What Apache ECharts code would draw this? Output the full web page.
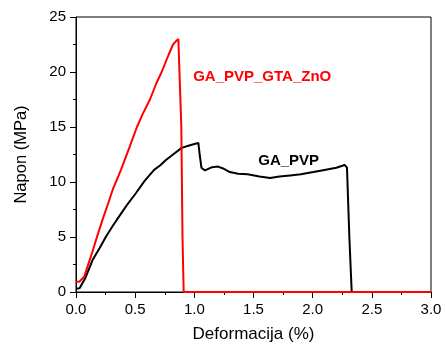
<!DOCTYPE html>
<html>
<head>
<meta charset="utf-8">
<script src="https://cdn.jsdelivr.net/npm/echarts@6/dist/echarts.min.js"></script>
<style>html,body{margin:0;padding:0;background:#fff}#c{width:445px;height:344px}</style>
</head>
<body>
<div id="c"></div>
<script>
// Data
const strainBlack = [0, 0.03, 0.042, 0.08, 0.14, 0.2, 0.254, 0.31, 0.366, 0.43, 0.507, 0.58, 0.66, 0.71, 0.76, 0.82, 0.893, 0.95, 1.0, 1.034, 1.045, 1.06, 1.09, 1.15, 1.2, 1.25, 1.3, 1.37, 1.45, 1.55, 1.64, 1.72, 1.81, 1.9, 2.006, 2.1, 2.2, 2.27, 2.29, 2.31, 2.33, 3.0];
const stressBlack = [0.3, 0.35, 0.5, 1.3, 2.9, 4.0, 5.05, 6.0, 6.9, 7.9, 9.0, 10.1, 11.1, 11.5, 12.0, 12.5, 13.1, 13.3, 13.45, 13.55, 12.5, 11.3, 11.05, 11.35, 11.4, 11.2, 10.9, 10.75, 10.7, 10.5, 10.36, 10.5, 10.6, 10.7, 10.9, 11.1, 11.3, 11.55, 11.3, 5, 0, 0];
const strainRed = [0, 0.03, 0.07, 0.1, 0.14, 0.18, 0.225, 0.27, 0.31, 0.38, 0.45, 0.515, 0.56, 0.625, 0.68, 0.724, 0.78, 0.82, 0.845, 0.865, 0.88, 0.89, 0.9, 0.91, 3.0];
const stressRed = [0.9, 0.96, 1.4, 2.4, 3.7, 5.1, 6.6, 8.0, 9.3, 11.1, 13.1, 15.0, 16.1, 17.5, 19.0, 20.0, 21.5, 22.5, 22.8, 23.0, 22.9, 15, 5, 0, 0];
const xTicks = { min: 0, max: 3, interval: 0.5 };
const yTicks = { min: 0, max: 25, interval: 5 };
const labelBlack = 'GA_PVP';
const labelRed = 'GA_PVP_GTA_ZnO';
const xTitle = 'Deformacija (%)';
const yTitle = 'Napon (MPa)';

const zip = (a, b) => a.map((v, i) => [v, b[i]]);
const chart = echarts.init(document.getElementById('c'), null, { renderer: 'canvas' });
const font = 'Arial, "Liberation Sans", sans-serif';
chart.setOption({
  animation: false,
  grid: { left: 76, right: 14, top: 17, bottom: 52, show: true, borderColor: '#000', borderWidth: 1, backgroundColor: 'transparent', containLabel: false, outerBoundsMode: 'none' },
  xAxis: {
    type: 'value', min: xTicks.min, max: xTicks.max, interval: xTicks.interval,
    name: xTitle, nameLocation: 'middle', nameGap: 34,
    nameTextStyle: { fontFamily: font, fontSize: 17, color: '#000' },
    axisLine: { show: true, lineStyle: { color: '#000', width: 1 } },
    axisTick: { show: true, inside: false, length: 6, lineStyle: { color: '#000' } },
    minorTick: { show: true, splitNumber: 2, length: 3, lineStyle: { color: '#000' } },
    axisLabel: { margin: 10, fontFamily: font, fontSize: 15, color: '#000', formatter: v => v.toFixed(1) },
    splitLine: { show: false }
  },
  yAxis: {
    type: 'value', min: yTicks.min, max: yTicks.max, interval: yTicks.interval,
    name: yTitle, nameLocation: 'middle', nameGap: 46,
    nameTextStyle: { fontFamily: font, fontSize: 16.5, color: '#000' },
    axisLine: { show: true, lineStyle: { color: '#000', width: 1 } },
    axisTick: { show: true, inside: false, length: 6, lineStyle: { color: '#000' } },
    minorTick: { show: true, splitNumber: 2, length: 3, lineStyle: { color: '#000' } },
    axisLabel: { margin: 10, fontFamily: font, fontSize: 15, color: '#000' },
    splitLine: { show: false }
  },
  series: [
    {
      type: 'line', data: zip(strainBlack, stressBlack), showSymbol: false, symbol: 'none', clip: false,
      lineStyle: { color: '#000', width: 2 },
      markPoint: {
        symbol: 'rect', symbolSize: 0,
        data: [{ coord: [1.54, 11.95], value: labelBlack }],
        label: { show: true, formatter: labelBlack, fontFamily: font, fontSize: 15, fontWeight: 'bold', color: '#000', align: 'left', verticalAlign: 'middle' }
      }
    },
    {
      type: 'line', data: zip(strainRed, stressRed), showSymbol: false, symbol: 'none', clip: false,
      lineStyle: { color: '#ff0000', width: 2 },
      markPoint: {
        symbol: 'rect', symbolSize: 0,
        data: [{ coord: [0.99, 19.6], value: labelRed }],
        label: { show: true, formatter: labelRed, fontFamily: font, fontSize: 15, fontWeight: 'bold', color: '#ff0000', align: 'left', verticalAlign: 'middle' }
      }
    }
  ]
});
</script>
</body>
</html>
